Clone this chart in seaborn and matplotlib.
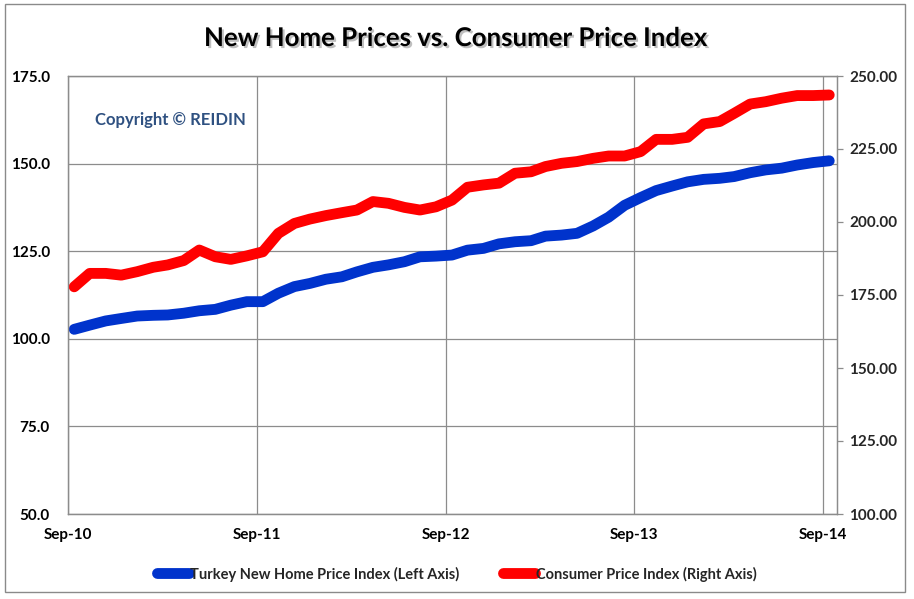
import matplotlib.dates as mdates
import matplotlib.patheffects as pe
import matplotlib.pyplot as plt
import pandas as pd
import seaborn as sns
from matplotlib.patches import Rectangle


MONTHS = pd.date_range("2010-09-01", "2014-09-01", freq="MS")

HOME_PRICE_INDEX = [
    102.7, 103.9, 105.1, 105.8, 106.5, 106.7, 106.8, 107.3, 108.0, 108.4,
    109.6, 110.6, 110.6, 113.0, 114.9, 115.8, 117.0, 117.7, 119.1, 120.4,
    121.1, 122.0, 123.4, 123.6, 123.9, 125.3, 125.8, 127.1, 127.7, 128.0,
    129.3, 129.6, 130.1, 132.2, 134.7, 138.1, 140.3, 142.3, 143.6, 144.8,
    145.5, 145.8, 146.3, 147.4, 148.2, 148.7, 149.6, 150.3, 150.8,
]

CONSUMER_PRICE_INDEX = [
    177.8, 182.4, 182.4, 181.8, 183.0, 184.5, 185.3, 186.8, 190.4, 188.1,
    187.2, 188.4, 189.8, 196.1, 199.5, 201.0, 202.2, 203.2, 204.1, 207.0,
    206.4, 205.0, 204.1, 205.2, 207.5, 211.9, 212.7, 213.3, 216.7, 217.2,
    219.0, 220.1, 220.7, 221.8, 222.6, 222.6, 224.1, 228.3, 228.3, 229.0,
    233.6, 234.4, 237.2, 240.4, 241.2, 242.4, 243.3, 243.3, 243.5,
]

LEFT_TICKS = [50, 75, 100, 125, 150, 175]
RIGHT_TICKS = [100, 125, 150, 175, 200, 225, 250]
YEAR_TICKS = pd.to_datetime(["2010-09-01", "2011-09-01", "2012-09-01", "2013-09-01", "2014-09-01"])

HOME_LABEL = "Turkey New Home Price Index (Left Axis)"
CPI_LABEL = "Consumer Price Index (Right Axis)"
BLUE = "#0033CC"
RED = "#FF0000"
GRID = "#8c8c8c"


def main() -> None:
    sns.set_style("white")
    plt.rcParams["font.family"] = ["Lato", "DejaVu Sans"]
    plt.rcParams["font.weight"] = "bold"

    df = pd.DataFrame(
        {
            "date": MONTHS + pd.Timedelta(days=12),
            "home": HOME_PRICE_INDEX,
            "cpi": CONSUMER_PRICE_INDEX,
        }
    )

    fig = plt.figure(figsize=(9.14, 5.99), dpi=100)
    ax = fig.add_axes([68 / 914, 1 - 514 / 599, (837 - 68) / 914, (514 - 76) / 599])
    ax2 = ax.twinx()

    sns.lineplot(data=df, x="date", y="home", ax=ax, color=BLUE, linewidth=7.8,
                 label=HOME_LABEL, legend=False)
    sns.lineplot(data=df, x="date", y="cpi", ax=ax2, color=RED, linewidth=7.8,
                 label=CPI_LABEL, legend=False)
    for line in ax.lines + ax2.lines:
        line.set_solid_capstyle("round")
        line.set_solid_joinstyle("round")

    ax.set_xlim(pd.Timestamp("2010-09-01"), pd.Timestamp("2014-09-28"))
    ax.set_ylim(50, 175)
    ax2.set_ylim(100, 250)
    ax.set_yticks(LEFT_TICKS)
    ax.set_yticklabels([f"{v:.1f}" for v in LEFT_TICKS])
    ax2.set_yticks(RIGHT_TICKS)
    ax2.set_yticklabels([f"{v:.2f}" for v in RIGHT_TICKS])
    ax.set_xticks(YEAR_TICKS)
    ax.xaxis.set_major_formatter(mdates.DateFormatter("%b-%y"))

    ax.set_xlabel("")
    ax.set_ylabel("")
    ax2.set_ylabel("")

    ax.grid(True, axis="both", color=GRID, linewidth=0.9)
    ax.set_axisbelow(True)
    ax2.set_zorder(ax.get_zorder() + 1)
    ax2.patch.set_visible(False)

    for a in (ax, ax2):
        for spine in a.spines.values():
            spine.set_color(GRID)
            spine.set_linewidth(0.9)

    ax.tick_params(axis="both", length=0, labelsize=11, pad=10, colors="black")
    ax.tick_params(axis="y", pad=13)
    ax2.tick_params(axis="y", length=4, width=0.9, color=GRID, labelsize=11, pad=5)
    for label in ax.get_xticklabels() + ax.get_yticklabels() + ax2.get_yticklabels():
        label.set_fontweight("bold")

    ax.text(0.035, 0.9, "Copyright \u00a9 REIDIN", transform=ax.transAxes,
            ha="left", va="center", fontsize=12, fontweight="bold", color="#2F5181")

    fig.text(0.5, 1 - 38 / 599, "New Home Prices vs. Consumer Price Index",
             ha="center", va="center", fontsize=18.6, fontweight="bold", color="black",
             path_effects=[pe.withSimplePatchShadow(offset=(1.5, -1.5), alpha=0.25)])

    handles = ax.lines[:1] + ax2.lines[:1]
    fig.legend(handles, [HOME_LABEL, CPI_LABEL], loc="center", ncol=2,
               bbox_to_anchor=(0.5, 1 - 574 / 599), frameon=False,
               handlelength=2.2, handletextpad=0.05, columnspacing=3.0,
               prop={"weight": "bold", "size": 10.5})

    fig.patches.append(Rectangle((5 / 914, 1 - 592 / 599), 900 / 914, 588 / 599,
                                 transform=fig.transFigure, fill=False,
                                 edgecolor="#8a8a8a", linewidth=1.0))

    fig.savefig("out.png", dpi=100)
    plt.close(fig)


if __name__ == "__main__":
    main()
